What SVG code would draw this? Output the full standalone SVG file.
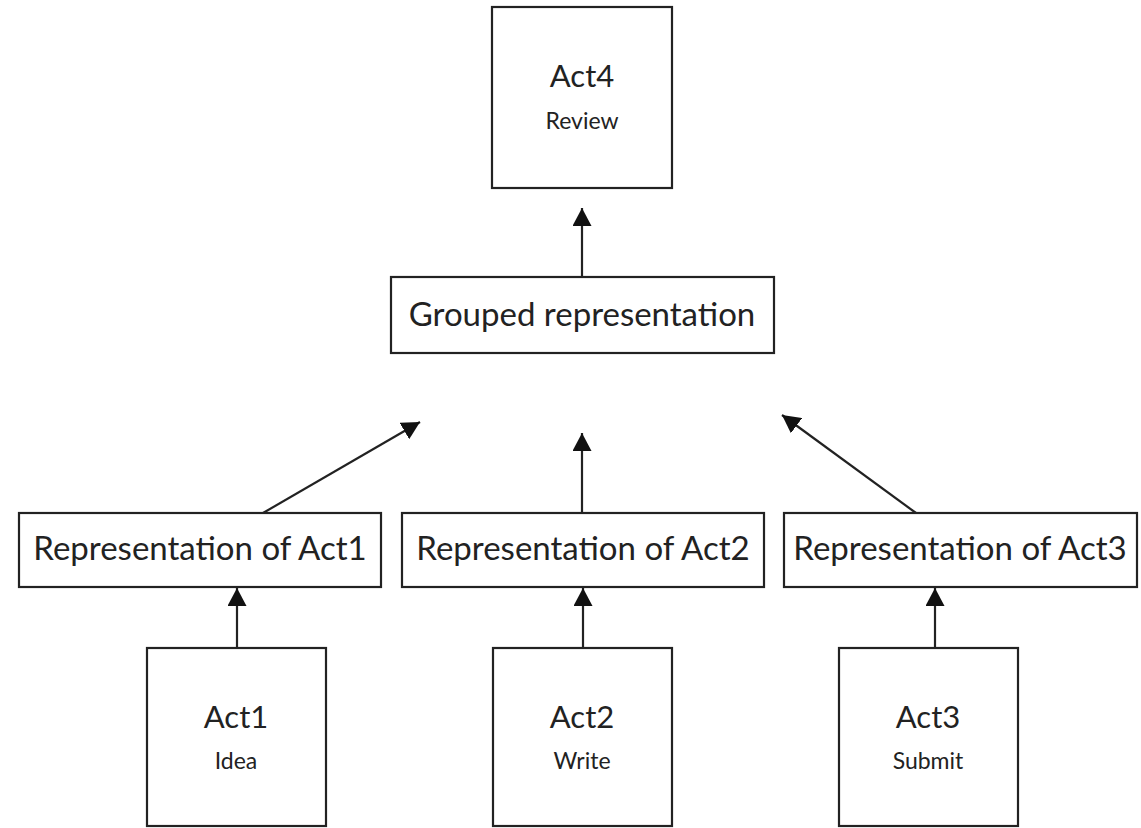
<svg xmlns="http://www.w3.org/2000/svg" width="1141" height="828" viewBox="0 0 1141 828">
<style>
.box{fill:#fff;stroke:#222;stroke-width:2.2}
.t{font-family:Lato,"Open Sans",sans-serif;fill:#222;text-anchor:middle}
.big{font-size:33px}
.act{font-size:31px}
.small{font-size:23px}
.c{stroke:#222;stroke-width:2.2;fill:none;marker-end:url(#ah)}
</style>
<defs>
<marker id="ah" markerUnits="userSpaceOnUse" markerWidth="19" markerHeight="19" refX="18" refY="9.5" orient="auto" viewBox="0 0 19 19">
<path d="M0,0 L18,9.5 L0,19 z" fill="#111"/>
</marker>
</defs>
<rect width="1141" height="828" fill="#fff"/>
<g id="connectors">
<line class="c" x1="582" y1="277" x2="582" y2="208"/>
<line class="c" x1="263" y1="513" x2="420" y2="422"/>
<line class="c" x1="582" y1="513" x2="582" y2="433"/>
<line class="c" x1="916" y1="513" x2="782" y2="415"/>
<line class="c" x1="237" y1="648" x2="237" y2="588"/>
<line class="c" x1="583" y1="648" x2="583" y2="588"/>
<line class="c" x1="935" y1="648" x2="935" y2="588"/>
</g>
<g id="act4">
<rect class="box" x="492" y="7" width="180" height="181"/>
<text class="t act" x="582" y="87">Act4</text>
<text class="t small" x="582" y="129">Review</text>
</g>
<g id="grouped">
<rect class="box" x="391" y="277" width="383" height="76"/>
<text class="t big" x="582" y="326">Grouped representation</text>
</g>
<g id="rep1">
<rect class="box" x="19" y="513" width="362" height="74"/>
<text class="t big" x="200" y="560">Representation of Act1</text>
</g>
<g id="rep2">
<rect class="box" x="402" y="513" width="362" height="74"/>
<text class="t big" x="583" y="560">Representation of Act2</text>
</g>
<g id="rep3">
<rect class="box" x="784" y="513" width="353" height="74"/>
<text class="t big" x="960" y="560">Representation of Act3</text>
</g>
<g id="act1">
<rect class="box" x="147" y="648" width="179" height="178"/>
<text class="t act" x="236" y="728">Act1</text>
<text class="t small" x="236" y="769">Idea</text>
</g>
<g id="act2">
<rect class="box" x="493" y="648" width="179" height="178"/>
<text class="t act" x="582" y="728">Act2</text>
<text class="t small" x="582" y="769">Write</text>
</g>
<g id="act3">
<rect class="box" x="839" y="648" width="179" height="178"/>
<text class="t act" x="928" y="728">Act3</text>
<text class="t small" x="928" y="769">Submit</text>
</g>
</svg>
